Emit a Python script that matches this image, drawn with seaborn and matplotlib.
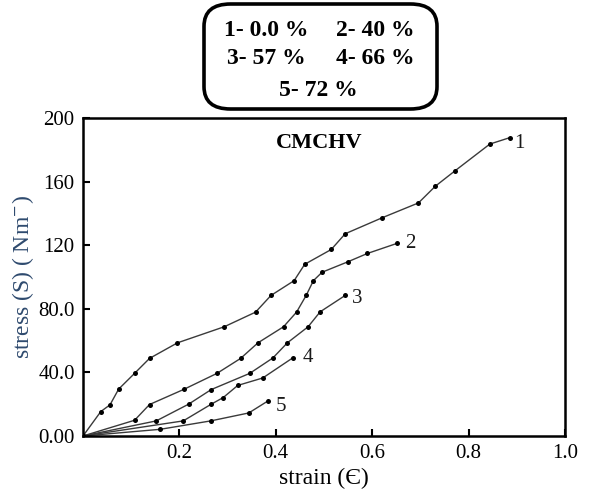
import numpy as np
import pandas as pd
import matplotlib
matplotlib.use("Agg")
import matplotlib.pyplot as plt
from matplotlib.patches import FancyBboxPatch
import seaborn as sns

# ---- data ----
strain_1 = [0.0, 0.037, 0.056, 0.074, 0.107, 0.138, 0.196, 0.293, 0.358, 0.390, 0.438,
            0.460, 0.515, 0.544, 0.621, 0.696, 0.731, 0.771, 0.844, 0.885]
stress_1 = [0.0, 15.4, 19.6, 29.5, 39.4, 48.8, 58.6, 68.7, 77.9, 88.4, 97.7,
            108.0, 117.3, 127.2, 137.3, 146.6, 157.1, 166.6, 183.6, 187.6]

strain_2 = [0.0, 0.107, 0.138, 0.209, 0.278, 0.327, 0.363, 0.416, 0.443, 0.463, 0.478,
            0.496, 0.549, 0.590, 0.651]
stress_2 = [0.0, 9.9, 19.8, 29.3, 39.4, 48.8, 58.6, 68.7, 77.9, 88.4, 97.7,
            103.0, 109.5, 114.8, 121.1]

strain_3 = [0.0, 0.152, 0.219, 0.266, 0.346, 0.394, 0.424, 0.467, 0.492, 0.544]
stress_3 = [0.0, 9.5, 20.0, 29.2, 39.4, 49.1, 58.6, 68.7, 78.1, 88.4]

strain_4 = [0.0, 0.208, 0.266, 0.291, 0.321, 0.373, 0.435]
stress_4 = [0.0, 9.5, 20.0, 24.2, 31.8, 36.5, 49.1]

strain_5 = [0.0, 0.160, 0.265, 0.344, 0.384]
stress_5 = [0.0, 4.2, 9.5, 14.5, 22.1]

curve_names = ["1", "2", "3", "4", "5"]
legend_items = ["1- 0.0 %", "2- 40 %", "3- 57 %", "4- 66 %", "5- 72 %"]
x_ticks = [0.2, 0.4, 0.6, 0.8, 1.0]
x_ticklabels = ["0.2", "0.4", "0.6", "0.8", "1.0"]
y_ticks = [0, 40, 80, 120, 160, 200]
y_ticklabels = ["0.00", "40.0", "80.0", "120", "160", "200"]

curves = [(strain_1, stress_1), (strain_2, stress_2), (strain_3, stress_3),
          (strain_4, stress_4), (strain_5, stress_5)]
label_offsets = [(5, -6), (8, 0), (7, -3), (10, 0), (8, -6)]  # pixel offsets for end labels

sns.set_theme(style="white")
plt.rcParams["font.family"] = ["Liberation Serif", "DejaVu Serif"]
plt.rcParams["mathtext.fontset"] = "stix"

fig = plt.figure(figsize=(5.89, 4.96), dpi=100)
ax = fig.add_axes([83 / 589, 1 - 436 / 496, (565 - 83) / 589, (436 - 118) / 496])

for name, (xs, ys), (dx, dy) in zip(curve_names, curves, label_offsets):
    df = pd.DataFrame({"strain": xs, "stress": ys})
    sns.lineplot(data=df, x="strain", y="stress", ax=ax, sort=False, estimator=None,
                 color="#3a3a3a", linewidth=1.0, marker="o", markersize=3.6,
                 markerfacecolor="black", markeredgecolor="black", markeredgewidth=0)
    ax.annotate(name, xy=(xs[-1], ys[-1]), xytext=(dx * 0.72, dy * 0.72),
                textcoords="offset points", ha="left", va="center",
                fontsize=15, color="#1a1a1a")

ax.set_xlim(0, 1.0)
ax.set_ylim(0, 200)
ax.set_xticks(x_ticks)
ax.set_xticklabels(x_ticklabels)
ax.set_yticks(y_ticks)
ax.set_yticklabels(y_ticklabels)
ax.tick_params(axis="both", direction="in", length=5, width=1.5, labelsize=15,
               colors="black", pad=6, bottom=True, left=True, top=False, right=False)
for s in ax.spines.values():
    s.set_color("black")
    s.set_linewidth(1.8)

ax.set_xlabel("strain (Є)", fontsize=17, color="black", labelpad=3)
ax.set_ylabel("stress (S) ( Nm$^{-}$)", fontsize=17, color="#2e4a6e")
ax.yaxis.set_label_coords(-0.098, 0.5)
ax.text(0.49, 0.92, "CMCHV", transform=ax.transAxes, ha="center", va="center",
        fontsize=16, fontweight="bold", color="black")

# legend box (figure coordinates)
W, H = 589, 496
box = FancyBboxPatch((204 / W, 1 - 109 / H), (437 - 204) / W, (109 - 4) / H,
                     boxstyle="round,pad=0,rounding_size=0.045", transform=fig.transFigure,
                     facecolor="white", edgecolor="black", linewidth=2.6, zorder=5)
fig.patches.append(box)
pos = [(266, 30), (375, 30), (266, 58), (375, 58), (318, 90)]
for t, (px, py) in zip(legend_items, pos):
    fig.text(px / W, 1 - py / H, t, ha="center", va="center", fontsize=17,
             fontweight="bold", color="black", zorder=6)

fig.savefig("out.png", dpi=100)
